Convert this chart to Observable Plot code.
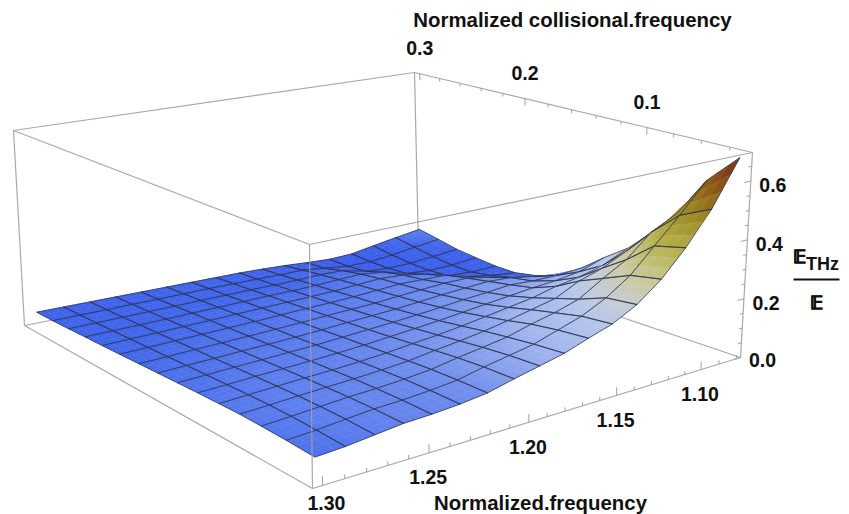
<!DOCTYPE html>
<html><head><meta charset="utf-8">
<style>html,body{margin:0;padding:0;background:#fff}svg{display:block}</style>
<script src="https://cdn.jsdelivr.net/npm/d3@7"></script>
<script src="https://cdn.jsdelivr.net/npm/@observablehq/plot@0.6"></script>
</head><body><div id="chart"></div>
<script>
const freqs = [1.08,1.09375,1.1075,1.12125,1.135,1.14875,1.1625,1.17625,1.19,1.20375,1.2175,1.23125,1.245,1.25875,1.2725,1.28625,1.30];
const nus = [0.03,0.052,0.072,0.09,0.108,0.127,0.146,0.165,0.184,0.204,0.223,0.242,0.261,0.28,0.30];
const zRows = [
[.675,.57,.43,.34,.26,.20,.135,.085,.056,.04,.04,.047,.055,.07,.085],
[.52,.47,.385,.295,.22,.17,.13,.10,.07,.05,.037,.038,.046,.058,.07],
[.41,.385,.31,.255,.198,.158,.13,.115,.09,.065,.042,.036,.038,.045,.055],
[.325,.305,.265,.23,.185,.152,.135,.12,.105,.088,.065,.042,.036,.036,.04],
[.262,.25,.215,.19,.165,.143,.127,.115,.105,.09,.08,.065,.042,.036,.036],
[.22,.21,.19,.172,.152,.134,.121,.11,.10,.092,.085,.075,.062,.045,.04],
[.195,.185,.172,.155,.14,.125,.113,.103,.095,.087,.08,.072,.064,.055,.045],
[.168,.16,.15,.14,.128,.116,.106,.097,.089,.082,.075,.068,.061,.054,.048],
[.15,.145,.137,.128,.118,.109,.1,.093,.086,.079,.073,.066,.06,.055,.05],
[.132,.13,.125,.118,.11,.102,.095,.089,.083,.077,.071,.066,.06,.055,.05],
[.112,.112,.11,.106,.101,.095,.09,.084,.079,.074,.069,.064,.059,.055,.05],
[.102,.103,.102,.099,.095,.09,.085,.08,.076,.071,.067,.062,.058,.054,.05],
[.096,.097,.096,.094,.09,.086,.082,.077,.073,.069,.065,.061,.057,.053,.05],
[.093,.094,.093,.09,.087,.083,.079,.075,.071,.067,.063,.059,.056,.053,.05],
[.084,.087,.087,.086,.083,.08,.076,.072,.069,.065,.061,.058,.055,.052,.05],
[.075,.079,.081,.081,.079,.076,.073,.07,.066,.063,.06,.057,.054,.052,.05],
[.07,.074,.076,.077,.075,.073,.07,.067,.064,.061,.058,.056,.053,.051,.05]
];
const freqTicks = [1.30,1.25,1.20,1.15,1.10];
const freqMinor = [1.29,1.28,1.27,1.26,1.24,1.23,1.22,1.21,1.19,1.18,1.17,1.16,1.14,1.13,1.12,1.11,1.09,1.08];
const nuTicks = [0.3,0.2,0.1];
const nuMinor = [0.28,0.26,0.24,0.22,0.18,0.16,0.14,0.12,0.08,0.06,0.04];
const zTicks = [0,0.2,0.4,0.6];
const zMinor = [0.05,0.1,0.15,0.25,0.3,0.35,0.45,0.5,0.55,0.65];
const colorStops = [0.03,0.06,0.08,0.125,0.16,0.21,0.25,0.305,0.4,0.49,0.57,0.675];
const colorRange = ["#3a5ced","#4166ea","#5a7cee","#7f9aec","#9fb3ee","#b5c5ec","#c6ccd8","#cbcba0","#b5b04a","#9c8a22","#8f5a18","#7a2814"];

const W = 849, H = 514;
const fBox = [1.3044, 1.0776], nuBox = [0.0246, 0.3054], zBox = [0, 0.697];
function quadMap(p){
  const [[x0,y0],[x1,y1],[x2,y2],[x3,y3]] = p;
  const dx1=x1-x2, dx2=x3-x2, sx=x0-x1+x2-x3, dy1=y1-y2, dy2=y3-y2, sy=y0-y1+y2-y3;
  const den=dx1*dy2-dx2*dy1, g=(sx*dy2-dx2*sy)/den, h=(dx1*sy-sx*dy1)/den;
  const a=x1-x0+g*x1, b=x3-x0+h*x3, d=y1-y0+g*y1, e=y3-y0+h*y3;
  return (u,v)=>{const q=g*u+h*v+1; return [(a*u+b*v+x0)/q,(d*u+e*v+y0)/q];};
}
const floorMap = quadMap([[312,488],[740,357],[418,248],[24,325]]);
const lidMap   = quadMap([[309,244],[752,152],[414,72],[13,130]]);
const uOf = d3.scaleLinear().domain([1.3044,1.25,1.20,1.15,1.10,1.0776]).range([0,0.227,0.445,0.658,0.885,1]);
const vOf = d3.scaleLinear().domain(nuBox).range([0,1]);
const wOf = d3.scaleLinear().domain(zBox).range([0,1]);
function project(f,nu,z){
  const u=uOf(f), v=vOf(nu), w=wOf(z);
  const a=floorMap(u,v), b=lidMap(u,v);
  return [a[0]+(b[0]-a[0])*w, a[1]+(b[1]-a[1])*w];
}
const SUB = 3, NI = freqs.length-1, NJ = nus.length-1;
function cellPatch(i,j,s,t,n){
  const z = (a,b)=>{const r=i+a, c=j+b;
    const i0=Math.min(Math.floor(r),NI-1), j0=Math.min(Math.floor(c),NJ-1), fr=r-i0, fc=c-j0;
    return (1-fr)*(1-fc)*zRows[i0][j0]+(1-fr)*fc*zRows[i0][j0+1]+fr*(1-fc)*zRows[i0+1][j0]+fr*fc*zRows[i0+1][j0+1];};
  const fAt=a=>freqs[i]+(freqs[i+1]-freqs[i])*a, nuAt=b=>nus[j]+(nus[j+1]-nus[j])*b;
  const pts=[[s,t],[s+n,t],[s+n,t+n],[s,t+n]];
  const zs=pts.map(([a,b])=>z(a,b));
  return pts.map(([a,b],k)=>({p:project(fAt(a),nuAt(b),zs[k]),z:d3.mean(zs)}));
}
const surfaceMarks=[];
for(let j=NJ-1;j>=0;j--){
  const fills=[], mesh=[];
  for(let i=0;i<NI;i++){
    const n=1/SUB;
    for(let b=SUB-1;b>=0;b--) for(let a=0;a<SUB;a++){
      const id=`${i}-${j}-${a}-${b}`;
      cellPatch(i,j,a*n,b*n,n).forEach(c=>fills.push({id,x:c.p[0],y:c.p[1],z:c.z}));
    }
    cellPatch(i,j,0,0,1).forEach(c=>mesh.push({id:`${i}-${j}`,x:c.p[0],y:c.p[1]}));
  }
  surfaceMarks.push(Plot.line(fills,{x:"x",y:"y",z:"id",fill:"z",stroke:"z",strokeWidth:0.5,curve:"linear-closed"}));
  surfaceMarks.push(Plot.line(mesh,{x:"x",y:"y",z:"id",stroke:"#2c3350",strokeWidth:0.9,strokeOpacity:0.85,curve:"linear-closed"}));
}
const edge=(a,b)=>{const p=project(...a),q=project(...b);return {x1:p[0],y1:p[1],x2:q[0],y2:q[1]};};
const [fA,fB]=fBox,[nA,nB]=nuBox,[zA,zB]=zBox;
const backEdges=[
  edge([fB,nB,zA],[fB,nB,zB]), edge([fB,nB,zA],[fB,nA,zA]), edge([fB,nB,zA],[fA,nB,zA])
];
const frontEdges=[
  edge([fA,nA,zA],[fA,nA,zB]), edge([fB,nA,zA],[fB,nA,zB]), edge([fA,nB,zA],[fA,nB,zB]),
  edge([fA,nA,zA],[fB,nA,zA]), edge([fA,nA,zA],[fA,nB,zA]),
  edge([fA,nA,zB],[fB,nA,zB]), edge([fB,nA,zB],[fB,nB,zB]), edge([fB,nB,zB],[fA,nB,zB]), edge([fA,nB,zB],[fA,nA,zB])
];
const ticks=[
  ...freqTicks.map(f=>edge([f,nA,zA],[f,nA,zA+0.026])),
  ...freqMinor.map(f=>edge([f,nA,zA],[f,nA,zA+0.012])),
  ...nuTicks.map(n=>edge([fB,n,zB],[fB,n,zB-0.026])),
  ...nuMinor.map(n=>edge([fB,n,zB],[fB,n,zB-0.012])),
  ...zTicks.map(z=>edge([fB,nA,z],[fB+0.0036,nA,z])),
  ...zMinor.map(z=>edge([fB,nA,z],[fB+0.0018,nA,z]))
];
const at=(p,dx,dy,text)=>({x:p[0]+dx,y:p[1]+dy,text});
const tickLabels=[
  ...freqTicks.map(f=>f===1.30?at(project(f,nA,zA),4,18,f.toFixed(2)):at(project(f,nA,zA),-1,25,f.toFixed(2))),
  ...nuTicks.map(n=>at(project(fB,n,zB),0,-25,n.toFixed(1))),
  ...zTicks.map(z=>at(project(fB,nA,z),22,z?5:3,z.toFixed(1)))
];
const font="'Liberation Sans',Arial,sans-serif";
const titles=[
  {x:572,y:20,text:"Normalized collisional.frequency"},
  {x:540,y:503,text:"Normalized.frequency"}
];
const fracSmall=[{x:822,y:264,text:"THz"}];
const fracE=[{x:799,y:257,text:"𝔼"},{x:816,y:303,text:"𝔼"}];
const chart=Plot.plot({
  width:W,height:H,margin:0,
  x:{domain:[0,W],range:[0,W],axis:null},
  y:{domain:[0,H],range:[0,H],axis:null},
  color:{type:"linear",domain:colorStops,range:colorRange,interpolate:"rgb",clamp:true},
  style:{background:"#fff",fontFamily:font},
  marks:[
    Plot.link(backEdges,{x1:"x1",y1:"y1",x2:"x2",y2:"y2",stroke:"#a8a8a8",strokeWidth:1.2}),
    ...surfaceMarks,
    Plot.link(frontEdges,{x1:"x1",y1:"y1",x2:"x2",y2:"y2",stroke:"#a0a0a0",strokeWidth:1.2,strokeOpacity:0.9}),
    Plot.link(ticks,{x1:"x1",y1:"y1",x2:"x2",y2:"y2",stroke:"#a0a0a0",strokeWidth:1}),
    Plot.text(tickLabels,{x:"x",y:"y",text:"text",fontSize:19.5,fontWeight:"bold",fill:"#111",fontFamily:font}),
    Plot.text(titles,{x:"x",y:"y",text:"text",fontSize:20.4,fontWeight:"bold",fill:"#111",fontFamily:font}),
    Plot.text(fracSmall,{x:"x",y:"y",text:"text",fontSize:18,fontWeight:"bold",fill:"#111",fontFamily:font}),
    Plot.text(fracE,{x:"x",y:"y",text:"text",fontSize:18,fontWeight:"bold",fill:"#111",stroke:"#111",strokeWidth:0.6,fontFamily:font}),
    Plot.link([{x1:793,x2:839,y1:279,y2:279}],{x1:"x1",y1:"y1",x2:"x2",y2:"y2",stroke:"#111",strokeWidth:2})
  ]
});
document.getElementById("chart").append(chart);
</script></body></html>
